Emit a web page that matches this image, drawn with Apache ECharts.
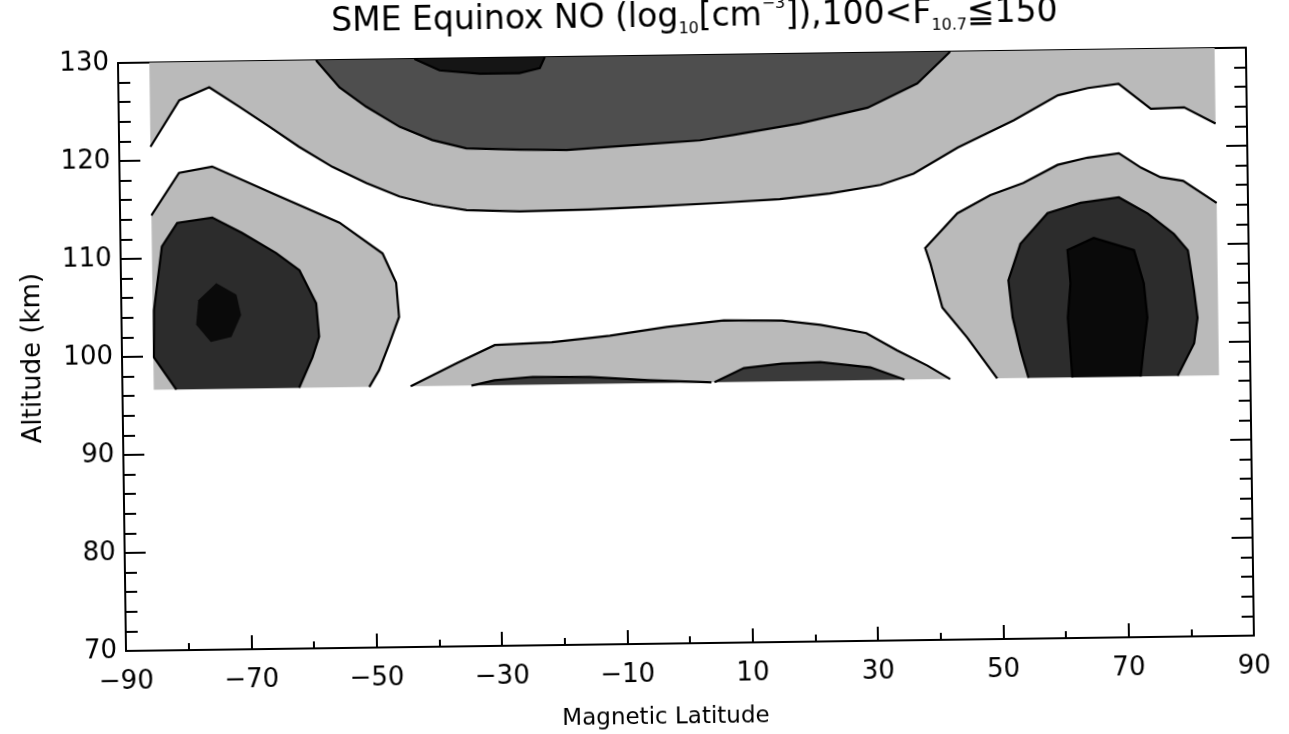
<!DOCTYPE html>
<html><head><meta charset="utf-8">
<script src="https://cdn.jsdelivr.net/npm/echarts@6/dist/echarts.min.js"></script>
<style>
html,body{margin:0;padding:0;background:#fff;overflow:hidden;width:1289px;height:734px}
#chart{width:1300px;height:800px;transform:rotate(-0.78deg);transform-origin:118px 63px;}
</style></head><body><div id="chart"></div>
<script>
// ---- axis ranges / ticks ----
const latRange = [-90, 90], latStep = 20;
const altRange = [70, 130], altStep = 10;
// ---- edges of the gridded data domain ----
const domainLat = [-85, 85];
const domainAlt = [96.6, 130];

// ---- contour edges, [magnetic latitude, altitude km] ----
// upper light band: lower boundary
const upperBandEdge = [[-85,121.4],[-80.3,126.1],[-75.5,127.4],[-70.8,125.4],[-66,123.3],[-61.3,121.2],[-56,119.1],[-50.6,117.4],[-45.4,116],[-40.1,115.1],[-34.7,114.5],[-26.2,114.3],[-15,114.4],[-5.4,114.6],[5.7,114.9],[15.3,115.2],[23.3,115.7],[31.4,116.5],[36.7,117.6],[43.8,120.2],[52.8,122.9],[59.9,125.4],[64.7,126.1],[69.6,126.5],[74.7,123.9],[80,124],[85,122.3]];
// upper dark band boundary
const upperDarkEdge = [[-58.4,130],[-54.7,127.2],[-50.5,125.2],[-45.2,123.1],[-40,121.7],[-34.6,120.8],[-26.1,120.6],[-18.6,120.5],[-8,120.9],[2.7,121.3],[8,121.8],[18.7,122.9],[29.5,124.4],[37.5,126.8],[42.8,130]];
// upper darkest patch
const upperBlackEdge = [[-42.7,130],[-38.7,128.8],[-32.3,128.4],[-26,128.4],[-22.7,128.9],[-21.9,130]];
// southern auroral blob
const southRingEdge = [[-85,114.4],[-80.5,118.7],[-75.2,119.3],[-65.7,116.5],[-55,113.4],[-48.2,110.2],[-46.1,107.2],[-45.7,103.7],[-47.3,101],[-49,98.3],[-50.6,96.6]];
const southInnerEdge = [[-61.8,96.6],[-59.6,99.7],[-58.5,101.8],[-58.9,105.2],[-61.5,108.6],[-65.2,110.4],[-70.6,112.5],[-75.3,114.1],[-80.9,113.6],[-83.4,111.2],[-84.8,104.7],[-84.9,99.9],[-81.4,96.6]];
const southCoreEdge = [[-74.8,107.4],[-71.6,106.2],[-70.9,104.1],[-72.5,101.9],[-75.8,101.4],[-78.1,103.2],[-77.7,105.7],[-74.8,107.4]];
// northern auroral blob
const northRingEdge = [[49.6,96.6],[44.9,100.8],[41,103.9],[39.2,108.4],[38.4,110],[43.6,113.5],[48.9,115.3],[54.2,116.5],[59.7,118.3],[64.5,119],[69.5,119.4],[73,117.9],[76.1,116.9],[79.7,116.5],[85,114.2]];
const northInnerEdge = [[54.6,96.6],[53.4,99.4],[52.2,102.8],[51.6,106.6],[53.6,110.3],[58,113.4],[63.3,114.4],[69.4,114.9],[74,113.2],[78.1,111.1],[80.3,109.4],[81.2,105.3],[81.7,102.5],[81.1,99.9],[78.4,96.6]];
const northCoreEdge = [[61.6,96.6],[61,102.7],[61.5,106.2],[61.1,109.6],[65.3,110.8],[71.7,109.5],[73.2,106.1],[73.7,102.6],[73,99.3],[72.5,96.6]];
// low-latitude bottom band
const lowBandEdge = [[-44,96.6],[-36.6,98.9],[-30.5,100.7],[-21.4,100.9],[-12.1,101.5],[-3,102.3],[6.1,102.9],[15.4,102.8],[21.5,102.3],[28.8,101.4],[33.7,99.6],[38.5,98],[42.1,96.6]];
const lowWestEdge = [[-34.3,96.6],[-30.6,97.1],[-24.5,97.4],[-15.4,97.3],[-6.1,96.9],[4,96.6]];
const lowEastEdge = [[4.5,96.6],[9.2,98],[15.3,98.4],[21.4,98.5],[29.4,97.9],[34.8,96.6]];

// ---- shading (drawing order = list order) ----
const C_LIGHT = '#bababa', C_DARK = '#4e4e4e', C_BLOB = '#2c2c2c', C_CORE = '#0a0a0a', C_STRIP = '#3a3a3a', C_TOP = '#151515';
const fills = [
  {pts: upperBandEdge.concat([[domainLat[1], domainAlt[1]], [domainLat[0], domainAlt[1]]]), color: C_LIGHT},
  {pts: southRingEdge.concat([[domainLat[0], domainAlt[0]]]), color: C_LIGHT},
  {pts: northRingEdge.concat([[domainLat[1], domainAlt[0]]]), color: C_LIGHT},
  {pts: lowBandEdge, color: C_LIGHT},
  {pts: upperDarkEdge, color: C_DARK},
  {pts: southInnerEdge, color: C_BLOB},
  {pts: northInnerEdge, color: C_BLOB},
  {pts: lowWestEdge, color: C_STRIP},
  {pts: lowEastEdge, color: C_STRIP},
  {pts: upperBlackEdge, color: C_TOP},
  {pts: southCoreEdge, color: C_CORE},
  {pts: northCoreEdge, color: C_CORE}
];
const lines = [upperBandEdge, upperDarkEdge, upperBlackEdge, southRingEdge, southInnerEdge, northRingEdge, northInnerEdge, northCoreEdge, lowBandEdge, lowWestEdge, lowEastEdge];

const FONT = "'DejaVu Sans', 'Liberation Sans', sans-serif";
const chart = echarts.init(document.getElementById('chart'), null, {renderer: 'canvas'});

function xAx(pos, showLabels) {
  return {
    type: 'value', position: pos, min: latRange[0], max: latRange[1], interval: latStep,
    axisLine: {show: true, onZero: false, lineStyle: {color: '#000', width: 2}},
    axisTick: {show: true, inside: true, length: 14, lineStyle: {color: '#000', width: 2}},
    minorTick: {show: true, splitNumber: 2, length: 7, lineStyle: {color: '#000', width: 2}},
    splitLine: {show: false}, minorSplitLine: {show: false},
    axisLabel: {show: showLabels, margin: 18, fontSize: 26, fontFamily: FONT, color: '#000',
      showMinLabel: true, showMaxLabel: true,
      formatter: v => (v < 0 ? '\u2212' + Math.abs(v) : String(v))},
    name: showLabels ? 'Magnetic Latitude' : '', nameLocation: 'middle', nameGap: 63,
    nameTextStyle: {fontSize: 23, fontFamily: FONT, color: '#000', padding: [0, 50, 0, 0]}
  };
}
function yAx(pos, showLabels) {
  return {
    type: 'value', position: pos, min: altRange[0], max: altRange[1], interval: altStep,
    axisLine: {show: true, onZero: false, lineStyle: {color: '#000', width: 2}},
    axisTick: {show: true, inside: true, length: 21, lineStyle: {color: '#000', width: 2}},
    minorTick: {show: true, splitNumber: 5, length: 12, lineStyle: {color: '#000', width: 2}},
    splitLine: {show: false}, minorSplitLine: {show: false},
    axisLabel: {show: showLabels, margin: 9, fontSize: 26, fontFamily: FONT, color: '#000',
      showMinLabel: true, showMaxLabel: true},
    name: showLabels ? 'Altitude (km)' : '', nameLocation: 'middle', nameGap: 76,
    nameTextStyle: {fontSize: 26, fontFamily: FONT, color: '#000'}
  };
}

const option = {
  backgroundColor: '#fff',
  animation: false,
  title: {
    left: 690, top: 0, textAlign: 'center',
    text: '{a|SME Equinox NO (log}{s|10}{a|[cm}{p|\u22123}{a|]),100<F}{s|10.7}{a|\u2266150}',
    textStyle: {
      fontWeight: 'normal',
      rich: {
        a: {fontSize: 33, fontFamily: FONT, fontWeight: 'normal', color: '#000', lineHeight: 40, verticalAlign: 'middle'},
        s: {fontSize: 16, fontFamily: FONT, fontWeight: 'normal', color: '#000', lineHeight: 17, verticalAlign: 'bottom'},
        p: {fontSize: 16, fontFamily: FONT, fontWeight: 'normal', color: '#000', lineHeight: 17, verticalAlign: 'top'}
      }
    }
  },
  grid: {left: 118, top: 63, width: 1128, height: 588, containLabel: false, outerBoundsMode: 'none'},
  xAxis: [xAx('bottom', true), xAx('top', false)],
  yAxis: [yAx('left', true), yAx('right', false)],
  series: [
    {
      type: 'custom', coordinateSystem: 'cartesian2d', xAxisIndex: 0, yAxisIndex: 0, silent: true, z: 2,
      data: fills.map(f => f.pts[0]),
      renderItem: (params, api) => {
        const f = fills[params.dataIndex];
        return {type: 'polygon', shape: {points: f.pts.map(p => api.coord(p))}, style: {fill: f.color, stroke: null}};
      }
    },
    {
      type: 'custom', coordinateSystem: 'cartesian2d', xAxisIndex: 0, yAxisIndex: 0, silent: true, z: 3,
      data: lines.map(l => l[0]),
      renderItem: (params, api) => {
        const l = lines[params.dataIndex];
        return {type: 'polyline', shape: {points: l.map(p => api.coord(p))}, style: {stroke: '#000', lineWidth: 2.2, fill: null}};
      }
    }
  ]
};
chart.setOption(option);
</script></body></html>
